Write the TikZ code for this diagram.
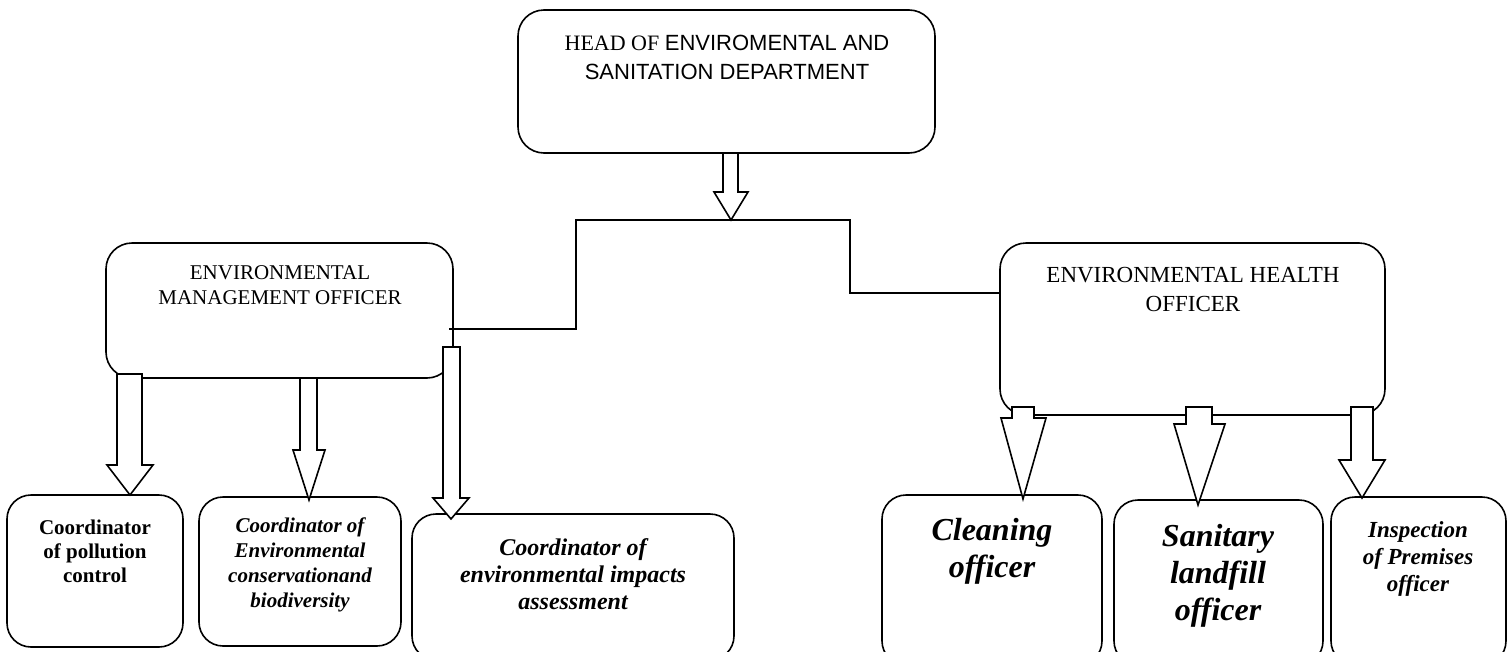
\documentclass[tikz,border=0pt]{standalone}
\usepackage{fontspec}
\setmainfont{Liberation Serif}
\newfontfamily\hsans{Liberation Sans}
\newcommand{\fs}[2]{\fontsize{#1}{#2}\selectfont}
\newcommand{\barrow}[8]{\draw[blockarrow] (#1,#3) -- (#1,#4) -- (#5,#4) -- (#7,#8) -- (#6,#4) -- (#2,#4) -- (#2,#3) -- cycle;}
\begin{document}
\begin{tikzpicture}[x=1pt,y=-1pt,
  box/.style={draw=black, line width=1.6pt, rounded corners=26pt, fill=white, inner sep=0pt},
  txt/.style={align=center, inner sep=0pt},
  bi/.style 2 args={txt, font=\fs{#1}{#2}\bfseries\itshape},
  conn/.style={draw=black, line width=1.6pt},
  blockarrow/.style={draw=black, fill=white, line width=1.6pt, line join=miter}]
\useasboundingbox (0,0) rectangle (1507,651);
% boxes
\node[box, minimum width=417pt, minimum height=143pt] (head) at (726.5,81.5) {};
\node[box, minimum width=347pt, minimum height=135pt] (emo) at (279.5,310.5) {};
\node[box, minimum width=385pt, minimum height=172pt] (eho) at (1192.5,329) {};
\node[box, minimum width=176pt, minimum height=152pt, rounded corners=24pt] (b1) at (95,571) {};
\node[box, minimum width=202pt, minimum height=149pt, rounded corners=24pt] (b2) at (300,571.5) {};
\node[box, minimum width=322pt, minimum height=146pt, rounded corners=24pt] (b3) at (573,587) {};
\node[box, minimum width=220pt, minimum height=170pt, rounded corners=24pt] (b4) at (992,580) {};
\node[box, minimum width=209pt, minimum height=165pt, rounded corners=24pt] (b5) at (1218.5,582.5) {};
\node[box, minimum width=175pt, minimum height=168pt, rounded corners=24pt] (b6) at (1418.5,581) {};
% texts
\node[txt, font=\fs{22}{29}] (headt) at (727,57.5) {HEAD OF {\hsans ENVIROMENTAL AND}\\{\hsans SANITATION DEPARTMENT}};
\node[txt, font=\fs{21}{25}] (emot) at (280,285.5) {ENVIRONMENTAL\\MANAGEMENT OFFICER};
\node[txt, font=\fs{23}{29}] (ehot) at (1193,289.5) {ENVIRONMENTAL HEALTH\\OFFICER};
\node[txt, font=\fs{21}{24}\bfseries] (b1t) at (95,551) {Coordinator\\of pollution\\control};
\node[bi={21}{25}] (b2t) at (300,565) {Coordinator of\\Environmental\\conservationand\\biodiversity};
\node[bi={24}{27}] (b3t) at (573,574) {Coordinator of\\environmental impacts\\assessment};
\node[bi={32}{37}] (b4t) at (992,551) {Cleaning\\officer};
\node[bi={32}{37}] (b5t) at (1218,576) {Sanitary\\landfill\\officer};
\node[bi={23}{27}] (b6t) at (1418,559) {Inspection\\of Premises\\officer};
% connectors
\coordinate (jl) at (576,220);
\coordinate (jr) at (850,220);
\coordinate (el) at (449,329);
\draw[conn] (el) -| (jl) -- (jr) |- (eho.west |- 0,293);
% block arrows
\barrow{723}{738}{153}{192}{714}{748}{731}{220}
\barrow{117}{142}{374}{465}{107}{153}{130}{495}
\barrow{300}{317}{378}{450}{293}{325}{309}{500}
\barrow{443}{460}{347}{498}{433}{469}{451}{519}
\barrow{1012}{1034}{407}{418}{1001}{1046}{1023}{499}
\barrow{1186}{1212}{407}{424}{1174}{1225}{1198}{505}
\barrow{1351}{1373}{407}{460}{1339}{1385}{1362}{498}
\end{tikzpicture}
\end{document}
